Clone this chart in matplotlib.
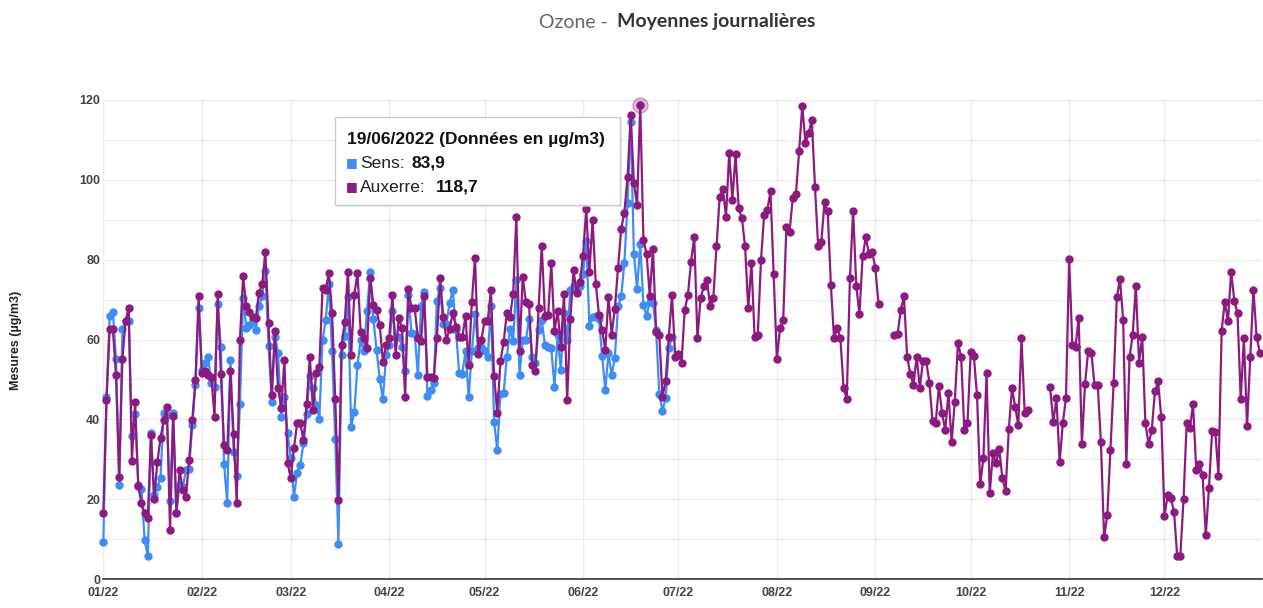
import numpy as np
import matplotlib.pyplot as plt
from matplotlib.patches import Rectangle

nan = np.nan

# Auxerre, daily means 2022 (µg/m3), one list per month
aux_jan = [16.6, 44.8, 62.6, 62.6, 51, 25.6, 55, 64.7, 68, 29.6, 44.4, 23.3, 19, 16.5, 15.4, 36,
           20, 29.3, 35.3, 39.8, 43.2, 12.3, 40.8, 16.6, 27.3, 22.3, 20.6, 29.8, 39.8, 49.9, 70.8]
aux_feb = [51.7, 52, 51, 50.6, 40.7, 71.4, 51.4, 33.6, 32.3, 52.1, 36.3, 19, 59.9, 75.9, 68.3, 67,
           65.7, 65.4, 71.6, 73.9, 82, 64.1, 46.1, 62.1, 47.8, 42.8, 54.9, 29]
aux_mar = [25.3, 32.8, 39, 39, 34.8, 43.8, 55.7, 42.3, 51.7, 53.2, 72.9, 72.4, 76.7, 66.7, 45.1, 19.8,
           58.6, 64.4, 77, 56, 71.2, 76.7, 61.9, 60.5, 57.9, 75.4, 68.7, 67.4, 63.6, 54.4, 58.6]
aux_apr = [60.4, 71.2, 56.1, 65.4, 62.9, 45.6, 72.7, 67.9, 67.9, 60.4, 59.5, 71, 50.7, 50.5, 50.3,
           60.4, 75.4, 65.7, 59.9, 62.6, 66.7, 63.1, 60.6, 60.6, 65.9, 53.6, 69.5, 80.5, 56.4, 59.9]
aux_may = [64.7, 64.7, 72.4, 50.9, 41.6, 54.5, 59.4, 66.6, 65.7, 71.4, 90.8, 57, 75.7, 69.5, 68.8, 53.6,
           52, 68, 83.5, 65.9, 66.1, 79.1, 62.1, 67.2, 58.2, 71.4, 44.8, 65.2, 77.4, 71.6, 74.5]
aux_jun = [81, 92.7, 77, 90, 74, 66.2, 62.4, 57.4, 70.7, 61.2, 67.7, 77.9, 87.7, 91.8, 100.6,
           116.3, 99.2, 93.7, 118.7, 85, 81.4, 70.9, 82.7, 62, 61.2, 45.6, 49.7, 60.7, 71.2, 55.7]
aux_jul = [56.4, 54.2, 67.4, 71.2, 79.5, 85.8, 60.3, 70.3, 73.3, 74.8, 68.4, 70.5, 83.3, 95.8, 97.7, 90.8,
           106.7, 95, 106.4, 92.9, 90.4, 83.3, 67.8, 79.1, 60.7, 61.2, 79.9, 91.2, 92.5, 97.1, 76.4]
aux_aug = [55.1, 62.8, 64.9, 88.3, 87, 95.4, 96.4, 107.1, 118.6, 109.2, 111.7, 115, 98.3, 83.3, 84.5, 94.4,
           92.1, 73.7, 60.3, 62.8, 60.3, 47.8, 45.1, 75.4, 92.3, 73.4, 66.4, 80.8, 85.6, 81.4, 82]
aux_sep = [77.9, 68.9, nan, nan, nan, nan, 61.2, 61.4, 67.4, 70.8, 55.7, 51.4, 48.6, 55.7, 47.8,
           54.7, 54.7, 49.2, 39.6, 39, 48.4, 41.5, 37.3, 46.7, 34.2, 44.4, 59.1, 55.7, 37.3, 39]
aux_oct = [56.8, 55.9, 46.1, 23.7, 30.2, 51.5, 21.5, 31.5, 29, 32.5, 25.2, 22, 37.5, 47.8, 43.2, 38.6,
           60.3, 41.7, 42.4, nan, nan, nan, nan, nan, nan, 48, 39.3, 45.3, 29.2, 39, 45.3]
aux_nov = [80.2, 58.6, 58.1, 65.5, 33.8, 48.9, 57.2, 56.6, 48.5, 48.5, 34.2, 10.4, 16, 32.3, 49,
           70.6, 75.1, 64.9, 28.7, 55.5, 61.2, 73.4, 54.2, 60.7, 39, 33.8, 37.3, 47, 49.5, 40.5]
aux_dec = [15.8, 21, 20.2, 16.9, 5.8, 5.8, 20, 39.2, 37.8, 43.8, 27.3, 28.7, 26.1, 11, 22.7, 37.1,
           36.9, 25.9, 62.2, 69.5, 64.7, 77, 69.6, 66.6, 45, 60.3, 38.4, 55.5, 72.4, 60.7, 56.7]

# Sens, data stops end of June
sens_jan = [9.3, 45.5, 66, 67, 55, 23.6, 62.6, 64.7, 64.7, 35.7, 41.3, 23.6, 22.5, 9.8, 5.8, 36.6,
            21, 23, 25.3, 41.6, 41, 19.6, 41.7, 16.6, 23.6, 23, 27.3, 27.5, 38.6, 48.5, 68]
sens_feb = [52.4, 54, 55.7, 49, 48, 69, 58, 28.8, 19, 54.9, 31.8, 25.8, 43.8, 70.4, 62.9, 63.6,
            64.9, 62.4, 68.3, 70.8, 77.2, 58.4, 44.4, 60.7, 56.6, 40.7, 45.6, 36.6]
sens_mar = [30.3, 20.6, 26.6, 28.6, 34, 41.3, 50.9, 47.8, 43.6, 40.1, 59.9, 64.9, 73.9, 57, 35.1, 8.8,
            56.1, 60.9, 70.7, 38.2, 41.9, 53.6, 60, 57, 67.2, 77, 65.2, 57.4, 50.1, 45.1, 56]
sens_apr = [58.6, 67.2, 60.7, 60.7, 58.2, 52, 71.2, 61.7, 61.5, 51.1, 68.3, 71.9, 45.9, 47.4, 49.1,
            69.7, 72.9, 63.9, 64, 69.2, 72.4, 62.4, 51.6, 51.4, 57.1, 45.6, 57, 66.4, 57.9, 58]
sens_may = [57.2, 55.7, 68.3, 39.4, 32.3, 46.4, 46.5, 55.7, 62.6, 59.5, 74.8, 51, 59.9, 59.9, 65.2, 55.7,
            54, 62.4, 64.9, 58.6, 58, 57.8, 48.1, 61.2, 52.4, 66.7, 59.9, 72.4, 73.3, 72.2, 73.3]
sens_jun = [76.4, 84.8, 63.4, 65.7, 66, 65.2, 55.9, 47.4, 56.6, 51.1, 55.4, 68.3, 70.8, 79.1, 94.2,
            114.4, 81.4, 72.7, 83.9, 68.7, 66, 69.5, 69.2, 62.4, 46.4, 42.1, 45.4, 57.9, 60.6]

month_labels = ['01/22', '02/22', '03/22', '04/22', '05/22', '06/22',
                '07/22', '08/22', '09/22', '10/22', '11/22', '12/22']
month_starts = [0, 31, 59, 90, 120, 151, 181, 212, 243, 273, 304, 334]

auxerre = np.array(aux_jan + aux_feb + aux_mar + aux_apr + aux_may + aux_jun +
                   aux_jul + aux_aug + aux_sep + aux_oct + aux_nov + aux_dec)
sens = np.array(sens_jan + sens_feb + sens_mar + sens_apr + sens_may + sens_jun)

blue = '#3d8df5'
purple = '#8c1a7f'

fig = plt.figure(figsize=(12.63, 6.08), dpi=100)
ax = fig.add_axes([103 / 1263, 29 / 608, 1159 / 1263, 479 / 608])

days_a = np.arange(len(auxerre))
days_s = np.arange(len(sens))
ax.plot(days_s, sens, color=blue, lw=1.6, marker='o', ms=5, mec=blue, clip_on=False, zorder=3)
ax.plot(days_a, auxerre, color=purple, lw=1.6, marker='o', ms=5, mec=purple, clip_on=False, zorder=4)

# highlighted point (tooltip target, 19/06)
hl = 169
ax.plot([hl], [auxerre[hl]], 'o', ms=11, color=purple, alpha=0.3, clip_on=False, zorder=5)

ax.set_xlim(-0.1, 364.7)
ax.set_ylim(0, 120)
ax.set_yticks(np.arange(0, 121, 20))
ax.set_yticks(np.arange(0, 121, 10), minor=True)
ax.set_xticks(month_starts)
ax.set_xticklabels(month_labels)
ax.grid(True, which='both', axis='y', color='#ebebeb', lw=1)
ax.grid(True, which='major', axis='x', color='#ebebeb', lw=1)
ax.set_axisbelow(True)
for s in ['top', 'right', 'left']:
    ax.spines[s].set_visible(False)
ax.spines['bottom'].set_color('#333333')
ax.spines['bottom'].set_linewidth(1.2)
ax.tick_params(which='both', length=0)
ax.tick_params(axis='x', labelsize=9, labelcolor='#444444', pad=6)
ax.tick_params(axis='y', labelsize=9, labelcolor='#444444', pad=2)
for lbl in ax.get_xticklabels() + ax.get_yticklabels():
    lbl.set_fontfamily('Liberation Sans')
    lbl.set_fontweight('bold')

fig.text(16 / 1263, 0.44, 'Mesures (µg/m3)', rotation=90, ha='center', va='center',
         fontsize=9, fontweight='bold', family='Liberation Sans', color='#222222')

# title
fig.text(613 / 1263, 1 - 22 / 608, 'Ozone - ', ha='right', va='center',
         fontsize=14, color='#666666', family='Lato')
fig.text(617 / 1263, 1 - 22 / 608, 'Moyennes journalières', ha='left', va='center',
         fontsize=14, fontweight='bold', color='#333333', family='Lato')

# tooltip
fig.patches.append(Rectangle((337 / 1263, 1 - 207 / 608), 285 / 1263, 88 / 608,
                             transform=fig.transFigure, facecolor='#dddddd', edgecolor='none',
                             alpha=0.6, zorder=9))
fig.patches.append(Rectangle((335 / 1263, 1 - 205 / 608), 285 / 1263, 88 / 608,
                             transform=fig.transFigure, facecolor='white', edgecolor='#cccccc',
                             lw=1, zorder=10))
tf = 'Liberation Sans'
fs = 12.5
fig.text(347 / 1263, 1 - 139 / 608, '19/06/2022 (Données en µg/m3)', fontsize=fs,
         fontweight='bold', family=tf, va='center', zorder=11, color='#111111')
fig.text(346 / 1263, 1 - 163 / 608, '■', fontsize=9, color=blue, family='DejaVu Sans',
         va='center', zorder=11)
fig.text(360 / 1263, 1 - 163 / 608, 'Sens:', fontsize=fs, family=tf, va='center', zorder=11,
         color='#222222')
fig.text(412 / 1263, 1 - 163 / 608, '83,9', fontsize=fs, fontweight='bold', family=tf,
         va='center', zorder=11, color='#111111')
fig.text(346 / 1263, 1 - 187 / 608, '■', fontsize=9, color=purple, family='DejaVu Sans',
         va='center', zorder=11)
fig.text(360 / 1263, 1 - 187 / 608, 'Auxerre:', fontsize=fs, family=tf, va='center', zorder=11,
         color='#222222')
fig.text(436 / 1263, 1 - 187 / 608, '118,7', fontsize=fs, fontweight='bold', family=tf,
         va='center', zorder=11, color='#111111')

fig.savefig('out.png', dpi=100, facecolor='white')
